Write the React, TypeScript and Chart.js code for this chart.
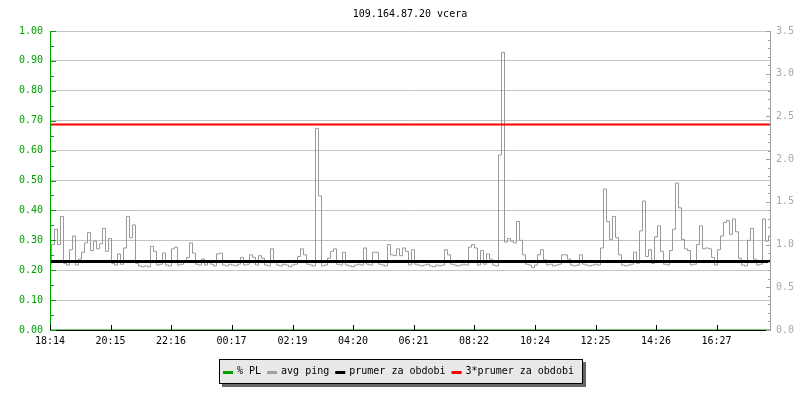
import React, { useEffect, useRef } from 'react';
import { Chart, registerables } from 'chart.js';

Chart.register(...registerables);

// ---------- data ----------
const titleText = '109.164.87.20 vcera';
const periodMinutes = 1440;
const sampleStepMinutes = 6;

const tickMinutes = [0, 121, 242, 363, 485, 606, 727, 848, 970, 1091, 1212, 1333];
const tickLabels = ['18:14', '20:15', '22:16', '00:17', '02:19', '04:20', '06:21', '08:22', '10:24', '12:25', '14:26', '16:27'];

// avg ping (right axis), one sample every 6 minutes
const avgPing = [
  0.77, 1.00, 1.18, 1.00, 1.33, 0.78, 0.76, 0.94, 1.10, 0.76, 0.83, 0.91, 1.02, 1.14, 0.93, 1.04, 0.95, 1.01, 1.19, 0.92,
  1.07, 0.78, 0.76, 0.89, 0.77, 0.96, 1.33, 1.08, 1.23, 0.78, 0.75, 0.74, 0.75, 0.74, 0.98, 0.92, 0.76, 0.77, 0.90, 0.76,
  0.75, 0.95, 0.97, 0.76, 0.77, 0.81, 0.85, 1.02, 0.90, 0.77, 0.76, 0.83, 0.76, 0.81, 0.77, 0.75, 0.89, 0.90, 0.76, 0.75,
  0.77, 0.76, 0.75, 0.77, 0.85, 0.76, 0.77, 0.88, 0.85, 0.76, 0.87, 0.84, 0.76, 0.75, 0.95, 0.80, 0.76, 0.75, 0.77, 0.76,
  0.74, 0.76, 0.77, 0.86, 0.95, 0.88, 0.77, 0.76, 0.75, 2.36, 1.57, 0.75, 0.76, 0.84, 0.92, 0.95, 0.77, 0.76, 0.91, 0.76,
  0.75, 0.74, 0.76, 0.77, 0.76, 0.96, 0.77, 0.76, 0.91, 0.91, 0.77, 0.76, 0.75, 1.00, 0.88, 0.87, 0.95, 0.87, 0.96, 0.92,
  0.76, 0.94, 0.77, 0.76, 0.75, 0.76, 0.77, 0.75, 0.74, 0.76, 0.75, 0.76, 0.94, 0.88, 0.77, 0.76, 0.75, 0.76, 0.77, 0.76,
  0.97, 1.00, 0.96, 0.76, 0.93, 0.77, 0.89, 0.83, 0.76, 0.75, 2.05, 3.25, 1.03, 1.07, 1.04, 1.02, 1.27, 1.05, 0.88, 0.77,
  0.76, 0.73, 0.76, 0.88, 0.94, 0.82, 0.76, 0.77, 0.75, 0.76, 0.77, 0.88, 0.88, 0.83, 0.76, 0.75, 0.76, 0.88, 0.77, 0.76,
  0.75, 0.76, 0.77, 0.76, 0.96, 1.65, 1.27, 1.06, 1.33, 1.08, 0.88, 0.76, 0.75, 0.76, 0.77, 0.91, 0.78, 1.16, 1.51, 0.86,
  0.94, 0.78, 1.09, 1.22, 0.92, 0.77, 0.76, 0.93, 1.18, 1.72, 1.43, 1.06, 0.95, 0.93, 0.76, 0.77, 1.00, 1.22, 0.95, 0.96,
  0.95, 0.85, 0.76, 0.94, 1.10, 1.26, 1.28, 1.12, 1.30, 1.15, 0.84, 0.76, 0.75, 1.05, 1.19, 0.83, 0.76, 0.77, 1.30, 1.04,
  1.10,
];

// % packet loss (left axis) - none during the period
const packetLossTimes = [0, 1440];
const packetLossValues = [0, 0];

const meanPing = 0.802;
const tripleMeanPing = 2.406;

const legendLabels = ['% PL', 'avg ping', 'prumer za obdobi', '3*prumer za obdobi'];

// ---------- styles ----------
const FONT_FAMILY = '"DejaVu Sans Mono", "Liberation Mono", monospace';
const FONT = `10px ${FONT_FAMILY}`;
const GREEN = '#00a000';
const GREY = '#999999';
const RED = '#ff0000';
const BLACK = '#000000';
const RIGHT_AXIS = '#a0a0a0';
const legendColors = [GREEN, '#a0a0a0', BLACK, RED];

const insideTicksPlugin = {
  id: 'insideTicks',
  afterDraw(chart: any) {
    const { ctx, chartArea, scales } = chart;
    ctx.save();
    ctx.lineWidth = 1;
    const y = scales.y;
    ctx.strokeStyle = GREEN;
    for (let k = 0; k <= 20; k++) {
      const v = k * 0.05;
      const py = Math.round(y.getPixelForValue(v)) + 0.5;
      const len = k % 2 === 0 ? 6 : 4;
      ctx.beginPath();
      ctx.moveTo(chartArea.left, py);
      ctx.lineTo(chartArea.left + len, py);
      ctx.stroke();
    }
    const y1 = scales.y1;
    ctx.strokeStyle = RIGHT_AXIS;
    for (let k = 0; k <= 35; k++) {
      const v = k * 0.1;
      const py = Math.round(y1.getPixelForValue(v)) + 0.5;
      const len = k % 5 === 0 ? 4 : 2;
      ctx.beginPath();
      ctx.moveTo(chartArea.right, py);
      ctx.lineTo(chartArea.right - len, py);
      ctx.stroke();
    }
    const x = scales.x;
    ctx.strokeStyle = BLACK;
    tickMinutes.forEach((m) => {
      const px = Math.round(x.getPixelForValue(m)) + 0.5;
      ctx.beginPath();
      ctx.moveTo(px, chartArea.bottom);
      ctx.lineTo(px, chartArea.bottom - 5);
      ctx.stroke();
    });
    ctx.restore();
  },
};

const titleAndLegendPlugin = {
  id: 'titleAndLegend',
  afterDraw(chart: any) {
    const { ctx, chartArea } = chart;
    ctx.save();
    ctx.font = FONT;
    ctx.fillStyle = BLACK;
    ctx.textAlign = 'center';
    ctx.textBaseline = 'alphabetic';
    ctx.fillText(titleText, (chartArea.left + chartArea.right) / 2, 17);

    const sw = 10;
    const gapSwText = 4;
    const gapItems = 6;
    const padL = 4;
    const padR = 8;
    const widths = legendLabels.map((l) => ctx.measureText(l).width);
    let w = padL + padR;
    widths.forEach((tw, i) => {
      w += sw + gapSwText + tw + (i < widths.length - 1 ? gapItems : 0);
    });
    w = Math.round(w);
    const h = 24;
    const x0 = Math.round((chart.width - w) / 2);
    const y0 = 359;
    ctx.fillStyle = '#666666';
    ctx.fillRect(x0 + 3, y0 + 3, w + 1, h + 1);
    ctx.fillStyle = '#e8e8e8';
    ctx.fillRect(x0, y0, w, h);
    ctx.strokeStyle = BLACK;
    ctx.lineWidth = 1;
    ctx.strokeRect(x0 + 0.5, y0 + 0.5, w, h);

    let cx = x0 + padL;
    const cy = y0 + 12;
    ctx.textAlign = 'left';
    ctx.textBaseline = 'middle';
    legendLabels.forEach((l, i) => {
      ctx.strokeStyle = legendColors[i];
      ctx.lineWidth = 3;
      ctx.beginPath();
      ctx.moveTo(cx, cy + 1.5);
      ctx.lineTo(cx + sw, cy + 1.5);
      ctx.stroke();
      cx += sw + gapSwText;
      ctx.fillStyle = BLACK;
      ctx.fillText(l, cx, cy);
      cx += widths[i] + gapItems;
    });
    ctx.restore();
  },
};

export default function App() {
  const canvasRef = useRef<HTMLCanvasElement | null>(null);

  useEffect(() => {
    document.body.style.margin = '0';
    const canvas = canvasRef.current;
    if (!canvas) return;

    const pingData = avgPing.map((v, i) => ({ x: i * sampleStepMinutes, y: v }));
    const plData = packetLossTimes.map((t, i) => ({ x: t, y: packetLossValues[i] }));
    const meanData = [{ x: 0, y: meanPing }, { x: periodMinutes, y: meanPing }];
    const tripleData = [{ x: 0, y: tripleMeanPing }, { x: periodMinutes, y: tripleMeanPing }];

    const chart = new Chart(canvas, {
      type: 'line',
      data: {
        datasets: [
          { label: legendLabels[3], data: tripleData, yAxisID: 'y1', borderColor: RED, borderWidth: 2, pointRadius: 0, order: 0 },
          { label: legendLabels[2], data: meanData, yAxisID: 'y1', borderColor: BLACK, borderWidth: 3, pointRadius: 0, order: 1 },
          { label: legendLabels[1], data: pingData, yAxisID: 'y1', borderColor: GREY, borderWidth: 1, pointRadius: 0, stepped: 'middle', order: 2 },
          { label: legendLabels[0], data: plData, yAxisID: 'y', borderColor: GREEN, borderWidth: 1, pointRadius: 0, order: 3 },
        ],
      },
      options: {
        animation: false,
        responsive: false,
        events: [],
        layout: { padding: { top: 31, left: 0, right: 0, bottom: 0 } },
        plugins: { legend: { display: false }, title: { display: false }, tooltip: { enabled: false } },
        scales: {
          x: {
            type: 'linear',
            min: 0,
            max: periodMinutes,
            afterBuildTicks: (scale: any) => {
              scale.ticks = tickMinutes.map((v) => ({ value: v }));
            },
            afterFit: (scale: any) => { scale.height = 70; },
            ticks: {
              autoSkip: false,
              maxRotation: 0,
              padding: 5,
              color: BLACK,
              font: { family: FONT_FAMILY, size: 10 },
              callback: (_v: any, i: number) => tickLabels[i],
            },
            grid: { display: false, drawTicks: false },
            border: { display: true, color: BLACK, width: 1, z: 1 },
          },
          y: {
            type: 'linear',
            position: 'left',
            min: 0,
            max: 1,
            afterFit: (scale: any) => { scale.width = 50; },
            ticks: {
              stepSize: 0.1,
              padding: 7,
              color: GREEN,
              font: { family: FONT_FAMILY, size: 10 },
              callback: (v: any) => Number(v).toFixed(2),
            },
            grid: { color: '#c4c4c4', lineWidth: 1, drawTicks: false },
            border: { display: true, color: GREEN, width: 1, z: 1 },
          },
          y1: {
            type: 'linear',
            position: 'right',
            min: 0,
            max: 3.5,
            afterFit: (scale: any) => { scale.width = 30; },
            ticks: {
              stepSize: 0.5,
              padding: 6,
              color: '#a8a8a8',
              font: { family: FONT_FAMILY, size: 10 },
              callback: (v: any) => Number(v).toFixed(1),
            },
            grid: { display: false, drawOnChartArea: false, drawTicks: false },
            border: { display: true, color: RIGHT_AXIS, width: 1, z: 1 },
          },
        },
      },
      plugins: [insideTicksPlugin, titleAndLegendPlugin],
    } as any);

    return () => chart.destroy();
  }, []);

  return (
    <div style={{ width: 800, height: 400, background: '#ffffff' }}>
      <canvas ref={canvasRef} width={800} height={400} />
    </div>
  );
}
